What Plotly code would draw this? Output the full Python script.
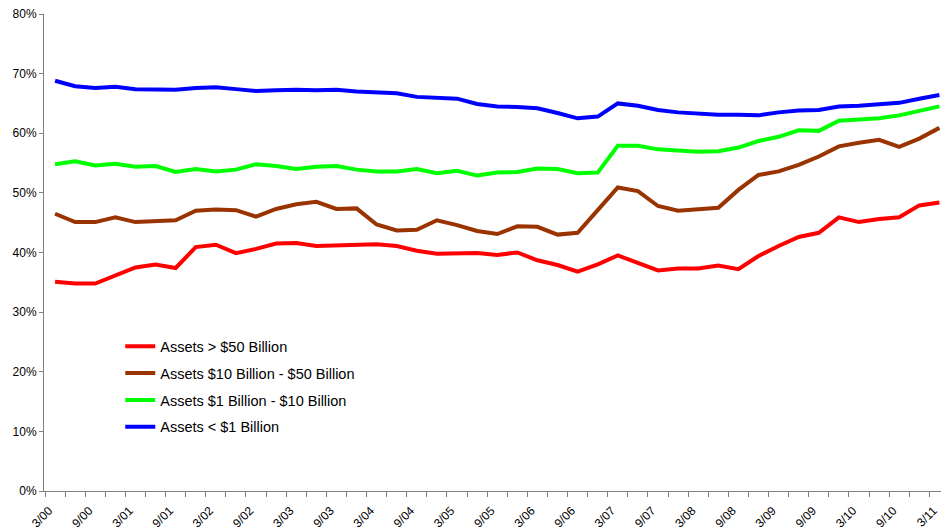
import plotly.graph_objects as go

quarters = ["3/00", "6/00", "9/00", "12/00", "3/01", "6/01", "9/01", "12/01",
            "3/02", "6/02", "9/02", "12/02", "3/03", "6/03", "9/03", "12/03",
            "3/04", "6/04", "9/04", "12/04", "3/05", "6/05", "9/05", "12/05",
            "3/06", "6/06", "9/06", "12/06", "3/07", "6/07", "9/07", "12/07",
            "3/08", "6/08", "9/08", "12/08", "3/09", "6/09", "9/09", "12/09",
            "3/10", "6/10", "9/10", "12/10", "3/11"]

assets_over_50b = [35.1, 34.8, 34.8, 36.1, 37.5, 38.0, 37.4, 40.9, 41.3, 39.9, 40.6,
                   41.5, 41.6, 41.1, 41.2, 41.2, 41.4, 41.1, 40.3, 39.8, 39.9, 39.9,
                   39.6, 40.0, 38.7, 37.9, 36.8, 38.0, 39.5, 38.3, 37.0, 37.3, 37.3,
                   37.8, 37.2, 39.4, 41.1, 42.6, 43.3, 45.9, 45.1, 45.6, 45.9, 47.9, 48.4]
assets_10b_50b = [46.5, 45.1, 45.1, 45.9, 45.1, 45.2, 45.4, 47.0, 47.2, 47.1, 46.0,
                  47.3, 48.1, 48.5, 47.3, 47.4, 44.7, 43.7, 43.8, 45.4, 44.6, 43.6,
                  43.1, 44.4, 44.3, 43.0, 43.3, 47.1, 50.9, 50.3, 47.8, 47.0, 47.3,
                  47.5, 50.5, 53.0, 53.6, 54.7, 56.1, 57.8, 58.4, 58.9, 57.7, 59.1, 60.9]
assets_1b_10b = [54.8, 55.3, 54.6, 54.9, 54.4, 54.5, 53.5, 54.0, 53.6, 53.9, 54.8,
                 54.5, 54.0, 54.4, 54.5, 53.9, 53.6, 53.6, 54.0, 53.3, 53.7, 52.9,
                 53.4, 53.5, 54.1, 54.0, 53.3, 53.4, 57.9, 57.9, 57.3, 57.1, 56.9,
                 57.0, 57.6, 58.7, 59.4, 60.5, 60.4, 62.1, 62.3, 62.5, 63.0, 63.8, 64.5]
assets_under_1b = [68.8, 67.9, 67.6, 67.8, 67.4, 67.3, 67.3, 67.6, 67.7, 67.4, 67.1,
                   67.2, 67.3, 67.2, 67.3, 67.0, 66.8, 66.7, 66.1, 65.9, 65.8, 64.9,
                   64.5, 64.4, 64.2, 63.4, 62.5, 62.8, 65.0, 64.6, 63.9, 63.5, 63.3,
                   63.1, 63.1, 63.0, 63.5, 63.8, 63.9, 64.5, 64.6, 64.8, 65.1, 65.8, 66.4]

series_names = ["Assets > $50 Billion", "Assets $10 Billion - $50 Billion",
                "Assets $1 Billion - $10 Billion", "Assets < $1 Billion"]
series_values = [assets_over_50b, assets_10b_50b, assets_1b_10b, assets_under_1b]
series_colors = ["#FF0000", "#993300", "#00FF00", "#0000FF"]

x_idx = list(range(len(quarters)))
label_idx = x_idx[::2]
label_text = quarters[::2]

FONT = "Arial, Liberation Sans, sans-serif"

fig = go.Figure()
for name, vals, col in zip(series_names, series_values, series_colors):
    fig.add_trace(go.Scatter(
        x=x_idx, y=vals, name=name, mode="lines", legendgroup=name,
        line=dict(color=col, width=4),
    ))

fig.update_layout(
    width=941, height=529,
    margin=dict(l=44, r=0, t=14, b=38),
    paper_bgcolor="white", plot_bgcolor="white",
    font=dict(family=FONT, size=12, color="black"),
    showlegend=True,
    legend=dict(
        x=0.085, y=0.337, xanchor="left", yanchor="top",
        font=dict(family=FONT, size=14.5, color="black"),
        bgcolor="rgba(0,0,0,0)", traceorder="grouped", tracegroupgap=5,
        itemwidth=30,
    ),
    xaxis=dict(
        range=[-0.55, 44.08], automargin=False,
        tickmode="array", tickvals=label_idx, ticktext=label_text,
        tickangle=-45, ticks="", showgrid=False, zeroline=False,
        showline=True, linecolor="#808080", linewidth=1,
        tickfont=dict(family=FONT, size=12, color="black"),
        ticklabelstandoff=7, ticklabelshift=-6,
        minor=dict(tickmode="linear", tick0=-0.5, dtick=1, ticks="outside",
                   ticklen=5, tickcolor="#808080", showgrid=False),
    ),
    yaxis=dict(
        range=[0, 80], dtick=10, ticksuffix="%", automargin=False,
        ticks="outside", ticklen=4, tickcolor="#808080",
        showgrid=False, zeroline=False,
        showline=True, linecolor="#808080", linewidth=1,
        tickfont=dict(family=FONT, size=12, color="black"),
    ),
)

fig.write_html(
    "out.html",
    config={"displayModeBar": False},
    post_script="document.body.style.margin='0';document.body.style.overflow='hidden';",
)
